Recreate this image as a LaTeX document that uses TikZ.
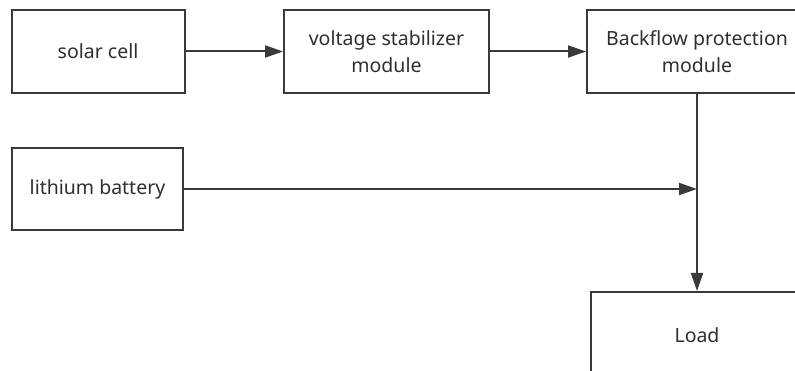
\documentclass[tikz,border=0pt]{standalone}
\usepackage{fontspec}
\setmainfont{Noto Sans}
\usepackage{xcolor}
\usetikzlibrary{arrows.meta}
\definecolor{edge}{HTML}{3A3A3A}
\definecolor{words}{HTML}{2E2E2E}

\begin{document}
\begin{tikzpicture}[x=1pt, y=-1pt,
    block/.style={draw=edge, line width=2pt, inner sep=0pt, align=center,
      text=words, font=\fontsize{19.5}{27}\selectfont, minimum height=83pt},
    flow/.style={draw=edge, line width=2pt, -{Triangle[length=18pt, width=12pt]}}]
    \useasboundingbox (0,0) rectangle (795,371);
    \node[block, minimum width=173pt] (solar) at (98,51.5) {solar cell};
    \node[block, minimum width=205pt] (volt) at (386.5,51.5) {voltage stabilizer\\module};
    \node[block, minimum width=220pt] (back) at (697,51.5) {Backflow protection\\module};
    \node[block, minimum width=171pt, minimum height=82pt] (lith) at (97.5,189) {lithium battery};
    \node[block, minimum width=212pt, minimum height=86pt] (load) at (697,335) {Load};
    \coordinate (join) at (back.south |- lith.east);
    % arrows
    \draw[flow] (solar) -- (volt);
    \draw[flow] (volt) -- (back);
    \draw[flow] (lith) -- (join);
    \draw[flow] (back) -- (load);
\end{tikzpicture}
\end{document}
